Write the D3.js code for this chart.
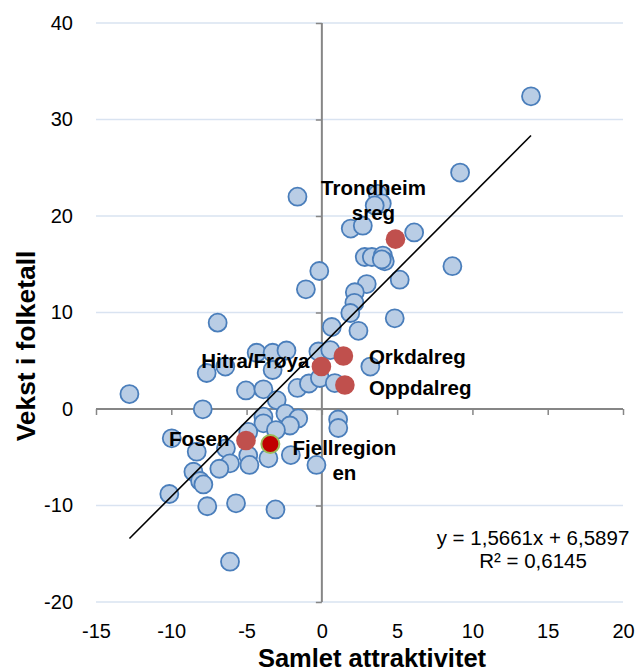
<!DOCTYPE html>
<html>
<head>
<meta charset="utf-8">
<script src="https://cdn.jsdelivr.net/npm/d3@7"></script>
<style>
  html, body { margin: 0; padding: 0; background: #fff; }
  svg { display: block; font-family: "Liberation Sans", Arial, sans-serif; }
</style>
</head>
<body>
<svg id="chart" width="637" height="672"></svg>
<script>
// Municipalities: total attractiveness (x) vs. population growth (y)
const regionX = [13.89, 9.18, -1.62, 3.71, 3.98, 3.51, 1.92, 2.72, 6.13, 2.85,
  3.32, 4.05, 4.18, 3.98, 8.67, -0.17, -1.06, 2.98, 5.17, 2.19,
  2.16, 1.89, 0.66, 2.43, 4.84, -6.92, -4.33, -3.27, -2.35, -0.23,
  0.56, -7.65, -6.41, -3.27, 3.22, -5.04, -3.88, -3.00, -1.62, -0.86,
  -0.13, 0.86, -12.78, -7.91, -3.88, -3.88, -2.42, -1.57, -2.12, -3.05,
  -4.89, 1.08, 1.09, -9.97, -8.31, -6.37, -4.89, -4.81, -3.55, -6.10,
  -6.81, -8.53, -8.09, -7.87, -10.13, -7.61, -5.70, -3.08, -2.06, -0.36,
  -6.10];
const regionY = [32.4, 24.5, 22.0, 22.3, 21.3, 21.1, 18.7, 19.0, 18.3, 15.75,
  15.75, 15.9, 15.3, 15.5, 14.8, 14.3, 12.4, 12.95, 13.4, 12.1,
  11.0, 9.95, 8.5, 8.1, 9.4, 8.95, 5.83, 5.83, 6.06, 5.96,
  6.11, 3.73, 4.4, 4.04, 4.4, 1.92, 2.04, 0.93, 2.18, 2.64,
  3.21, 2.69, 1.55, -0.03, -0.8, -1.48, -0.47, -0.98, -1.71, -2.18,
  -2.38, -1.09, -1.97, -3.04, -4.42, -4.07, -4.82, -5.8, -5.11, -5.63,
  -6.19, -6.5, -7.46, -7.82, -8.81, -10.08, -9.77, -10.41, -4.77, -5.8,
  -15.82];

// Highlighted regions
const highlightNames = ["Trondheimsreg", "Orkdalreg", "Hitra/Frøya", "Oppdalreg", "Fosen", "Fjellregionen"];
const highlightX = [4.89, 1.43, -0.03, 1.53, -5.04, -3.42];
const highlightY = [17.6, 5.49, 4.4, 2.49, -3.26, -3.63];

// Linear trend line (from the stated equation)
const trendSlope = 1.5661;
const trendIntercept = 6.5897;
const trendLabel = ["y = 1,5661x + 6,5897", "R² = 0,6145"];

const xTicks = [-15, -10, -5, 0, 5, 10, 15, 20];
const yTicks = [-20, -10, 0, 10, 20, 30, 40];
const xTitle = "Samlet attraktivitet";
const yTitle = "Vekst i folketall";

const svg = d3.select("#chart");
const plot = { left: 96, right: 623, top: 23, bottom: 602 };

const x = d3.scaleLinear().domain([-15, 20]).range([plot.left, plot.right]);
const y = d3.scaleLinear().domain([-20, 40]).range([plot.bottom, plot.top]);

// horizontal gridlines
svg.append("g")
  .selectAll("line")
  .data(yTicks.filter(d => d !== 0))
  .join("line")
  .attr("x1", plot.left).attr("x2", plot.right)
  .attr("y1", d => y(d)).attr("y2", d => y(d))
  .attr("stroke", "#d9e3f1").attr("stroke-width", 1.5);

// axes crossing at zero, ticks pointing outward
const axisColor = "#868686";
const yAxis = svg.append("g")
  .attr("transform", `translate(${x(0)},0)`)
  .call(d3.axisLeft(y).tickValues(yTicks).tickSize(6).tickFormat(""));
const xAxis = svg.append("g")
  .attr("transform", `translate(0,${y(0)})`)
  .call(d3.axisBottom(x).tickValues(xTicks).tickSize(6).tickFormat(""));
[yAxis, xAxis].forEach(g => {
  g.select(".domain").attr("stroke", axisColor).attr("stroke-width", 2);
  g.selectAll(".tick line").attr("stroke", axisColor).attr("stroke-width", 1.5);
});
// the domain path draws outer ticks; replace with a plain line
yAxis.select(".domain").attr("d", `M0,${plot.top}V${plot.bottom}`);
xAxis.select(".domain").attr("d", `M${plot.left},0H${plot.right}`);

// tick labels at the low side of the plot
const yLab = svg.append("g")
  .attr("transform", `translate(${plot.left - 23},0)`)
  .call(d3.axisLeft(y).tickValues(yTicks).tickSize(0).tickPadding(0).tickFormat(d => String(d)));
yLab.select(".domain").remove();
yLab.selectAll("text").attr("font-size", 20).attr("fill", "#000")
  .attr("font-family", "'Liberation Sans', Arial, sans-serif");

const xLab = svg.append("g")
  .attr("transform", `translate(0,${plot.bottom + 22})`)
  .call(d3.axisBottom(x).tickValues(xTicks).tickSize(0).tickPadding(0).tickFormat(d => String(d)));
xLab.select(".domain").remove();
xLab.selectAll("text").attr("font-size", 20).attr("fill", "#000")
  .attr("font-family", "'Liberation Sans', Arial, sans-serif");

// axis titles
svg.append("text")
  .attr("x", 372).attr("y", 666.5)
  .attr("text-anchor", "middle")
  .attr("font-size", 25.5).attr("font-weight", "bold")
  .text(xTitle);
svg.append("text")
  .attr("transform", "translate(34.5,346) rotate(-90)")
  .attr("text-anchor", "middle")
  .attr("font-size", 26.4).attr("font-weight", "bold")
  .text(yTitle);

// regions
const regions = regionX.map((v, i) => ({ x: v, y: regionY[i] }));
svg.append("g")
  .selectAll("circle")
  .data(regions)
  .join("circle")
  .attr("cx", d => x(d.x)).attr("cy", d => y(d.y))
  .attr("r", 9)
  .attr("fill", "#b9cde5")
  .attr("stroke", "#4a7ebb")
  .attr("stroke-width", 1.8);

// trend line across the data range
const allX = regionX.concat(highlightX);
const [xMin, xMax] = d3.extent(allX);
svg.append("line")
  .attr("x1", x(xMin)).attr("y1", y(trendSlope * xMin + trendIntercept))
  .attr("x2", x(xMax)).attr("y2", y(trendSlope * xMax + trendIntercept))
  .attr("stroke", "#000").attr("stroke-width", 1.6);

// highlighted regions
const highlights = highlightNames.map((n, i) => ({ name: n, x: highlightX[i], y: highlightY[i] }));
svg.append("g")
  .selectAll("circle")
  .data(highlights)
  .join("circle")
  .attr("cx", d => x(d.x)).attr("cy", d => y(d.y))
  .attr("r", d => d.name === "Fjellregionen" ? 9 : 9.8)
  .attr("fill", d => d.name === "Fjellregionen" ? "#c00000" : "#c0504d")
  .attr("stroke", d => d.name === "Fjellregionen" ? "#9bbb59" : "none")
  .attr("stroke-width", 2);

// region labels: lines, anchor and offset from the marker
const labelLayout = {
  "Trondheimsreg": { lines: ["Trondheim", "sreg"], anchor: "middle", dx: -22, dy: -44 },
  "Orkdalreg": { lines: ["Orkdalreg"], anchor: "start", dx: 25.5, dy: 7.5 },
  "Hitra/Frøya": { lines: ["Hitra/Frøya"], anchor: "end", dx: -12, dy: 1.8 },
  "Oppdalreg": { lines: ["Oppdalreg"], anchor: "start", dx: 24, dy: 10 },
  "Fosen": { lines: ["Fosen"], anchor: "end", dx: -16.5, dy: 5.5 },
  "Fjellregionen": { lines: ["Fjellregion", "en"], anchor: "middle", dx: 74, dy: 11 }
};
const labels = svg.append("g")
  .attr("font-size", 20.5).attr("font-weight", "bold").attr("fill", "#000");
highlights.forEach(d => {
  const L = labelLayout[d.name];
  const t = labels.append("text")
    .attr("text-anchor", L.anchor)
    .attr("x", x(d.x) + L.dx)
    .attr("y", y(d.y) + L.dy);
  L.lines.forEach((line, i) => {
    t.append("tspan")
      .attr("x", x(d.x) + L.dx)
      .attr("dy", i === 0 ? 0 : 24.5)
      .text(line);
  });
});

// trend equation
const eq = svg.append("text")
  .attr("text-anchor", "middle")
  .attr("font-size", 20.5).attr("fill", "#000");
trendLabel.forEach((line, i) => {
  eq.append("tspan").attr("x", 533).attr("y", 545 + i * 22.5).text(line);
});
</script>
</body>
</html>
